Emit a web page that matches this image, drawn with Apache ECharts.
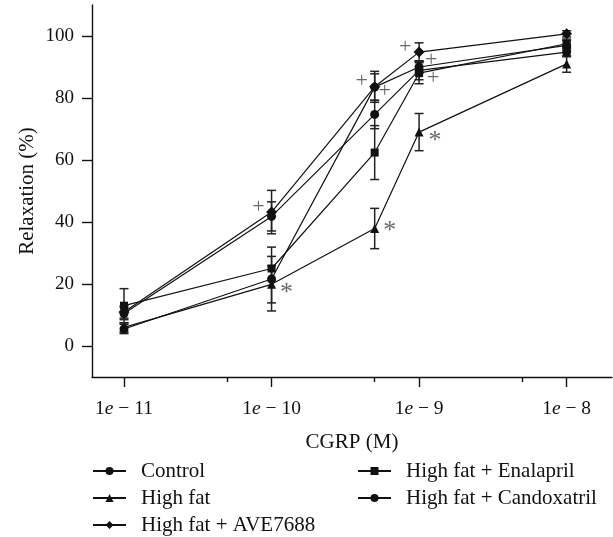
<!DOCTYPE html>
<html><head><meta charset="utf-8">
<script src="https://cdn.jsdelivr.net/npm/echarts@6/dist/echarts.min.js"></script>
<style>html,body{margin:0;padding:0;background:#fff}#c{width:613px;height:537px}</style>
</head><body><div id="c"></div>
<script>
// ---- data ----
const concentrations = [1e-11, 1e-10, 5e-10, 1e-9, 1e-8];
const seriesNames = ['Control', 'High fat', 'High fat + AVE7688', 'High fat + Enalapril', 'High fat + Candoxatril'];
const controlMean = [5.5, 21.6, 83.5, 90.0, 97.0];
const controlErr = [1.5, 10.3, 4.3, 2.0, 1.5];
const highFatMean = [6.0, 19.9, 37.9, 69.0, 91.0];
const highFatErr = [1.5, 6.0, 6.5, 6.0, 2.7];
const ave7688Mean = [11.0, 43.2, 83.6, 94.8, 100.7];
const ave7688Err = [2.0, 7.0, 5.0, 3.0, 1.0];
const enalaprilMean = [13.0, 25.0, 62.4, 88.0, 97.5];
const enalaprilErr = [5.5, 3.9, 8.7, 3.4, 1.5];
const candoxatrilMean = [10.5, 41.8, 74.7, 88.9, 94.8];
const candoxatrilErr = [2.0, 4.7, 4.6, 3.0, 1.5];
const xTickValues = [1e-11, 1e-10, 1e-9, 1e-8];
const xMinorTickValues = [5e-11, 5e-10, 5e-9];
const yTickValues = [0, 20, 40, 60, 80, 100];
// significance marks: [series, concentration index, mark]
const significance = [
  ['High fat + AVE7688', 1, '+'],
  ['High fat', 1, '*'],
  ['High fat + AVE7688', 2, '+'],
  ['Control', 2, '+'],
  ['High fat', 2, '*'],
  ['High fat + AVE7688', 3, '+'],
  ['Control', 3, '+'],
  ['High fat + Candoxatril', 3, '+'],
  ['High fat', 3, '*']
];

// ---- styling / layout ----
const means = [controlMean, highFatMean, ave7688Mean, enalaprilMean, candoxatrilMean];
const errs = [controlErr, highFatErr, ave7688Err, enalaprilErr, candoxatrilErr];
const symbols = ['circle', 'triangle', 'diamond', 'rect', 'circle'];
const symbolSizes = [9, 9, 11, 8, 9];
const markOffsets = [[-13, -5], [15, 9], [-13, -6], [10, 4], [15, 3], [-14, -5], [12, -7], [14, 8], [16, 9]];
const FONT = '"Liberation Serif", "Times New Roman", serif';
const INK = '#111';
const lg = v => Math.log10(v);
const xMin = -11.217, xMax = -7.6925;

const lineSeries = seriesNames.map((name, s) => ({
  type: 'line', name,
  data: concentrations.map((c, i) => [lg(c), means[s][i]]),
  symbol: symbols[s], symbolSize: symbolSizes[s],
  showAllSymbol: true,
  lineStyle: { color: INK, width: 1.2 },
  itemStyle: { color: INK, borderWidth: 0 },
  z: 3, animation: false
}));

const errSeries = seriesNames.map((name, s) => ({
  type: 'custom', name: name + ' SEM',
  data: concentrations.map((c, i) => [lg(c), means[s][i] - errs[s][i], means[s][i] + errs[s][i]]),
  encode: { x: 0, y: [1, 2] },
  renderItem(params, api) {
    const x = api.value(0);
    const lo = api.coord([x, api.value(1)]);
    const hi = api.coord([x, api.value(2)]);
    const hw = 4.5;
    const st = { stroke: '#222', lineWidth: 1.5 };
    return { type: 'group', children: [
      { type: 'line', shape: { x1: lo[0], y1: lo[1], x2: hi[0], y2: hi[1] }, style: st },
      { type: 'line', shape: { x1: lo[0] - hw, y1: lo[1], x2: lo[0] + hw, y2: lo[1] }, style: st },
      { type: 'line', shape: { x1: hi[0] - hw, y1: hi[1], x2: hi[0] + hw, y2: hi[1] }, style: st }
    ]};
  },
  z: 2, animation: false, silent: true
}));

const markSeries = {
  type: 'scatter', name: 'marks', silent: true, animation: false,
  symbolSize: 1, itemStyle: { color: 'transparent' },
  data: significance.map((m, k) => {
    const s = seriesNames.indexOf(m[0]);
    return {
      value: [lg(concentrations[m[1]]), means[s][m[1]]],
      label: {
        show: true, formatter: m[2], position: 'inside', offset: markOffsets[k],
        fontFamily: FONT, fontSize: m[2] === '*' ? 26 : 22, color: '#444',
        align: 'center', verticalAlign: 'middle'
      }
    };
  }),
  z: 4
};

const legendCommon = {
  orient: 'vertical', padding: 0, itemGap: 6, itemWidth: 33, itemHeight: 10,
  textStyle: { fontFamily: FONT, fontSize: 21, color: INK, padding: [0, 0, 0, 10] },
  lineStyle: { width: 2 }, selectedMode: false
};

const option = {
  backgroundColor: '#fff',
  animation: false,
  grid: { left: 92, right: 1, top: 5, bottom: 160 },
  xAxis: [{
    type: 'value', min: xMin, max: xMax, position: 'bottom',
    name: 'CGRP (M)', nameLocation: 'middle', nameGap: 55, nameMoveOverlap: false,
    nameTextStyle: { fontFamily: FONT, fontSize: 21, color: INK },
    axisLine: { onZero: false, lineStyle: { color: INK, width: 1.4 } },
    axisTick: { show: true, length: 10, lineStyle: { color: INK, width: 1.4 }, customValues: xTickValues.map(lg) },
    axisLabel: {
      customValues: xTickValues.map(lg), margin: 22,
      formatter: v => '{n|1}{e|e}{n| \u2212 ' + (-Math.round(v)) + '}',
      rich: {
        n: { fontFamily: FONT, fontSize: 19.5, color: INK },
        e: { fontFamily: FONT, fontSize: 19.5, color: INK, fontStyle: 'italic' }
      }
    },
    splitLine: { show: false }
  }, {
    type: 'value', min: xMin, max: xMax, position: 'bottom', offset: 0,
    axisLine: { show: false, onZero: false },
    axisTick: { show: true, length: 5, lineStyle: { color: INK, width: 1.4 }, customValues: xMinorTickValues.map(lg) },
    axisLabel: { show: false }, splitLine: { show: false }
  }],
  yAxis: {
    type: 'value', min: -10, max: 110,
    name: 'Relaxation (%)', nameLocation: 'middle', nameGap: 54, nameMoveOverlap: false,
    nameTextStyle: { fontFamily: FONT, fontSize: 21, color: INK },
    axisLine: { show: true, onZero: false, lineStyle: { color: INK, width: 1.4 } },
    axisTick: { show: true, length: 10, lineStyle: { color: INK, width: 1.4 }, customValues: yTickValues },
    axisLabel: { customValues: yTickValues, margin: 18, fontFamily: FONT, fontSize: 19, color: INK },
    splitLine: { show: false }
  },
  legend: [
    Object.assign({ left: 92, top: 460.5, data: seriesNames.slice(0, 3) }, legendCommon),
    Object.assign({ left: 357, top: 460.5, data: seriesNames.slice(3) }, legendCommon)
  ],
  series: [...errSeries, ...lineSeries, markSeries]
};

const chart = echarts.init(document.getElementById('c'), null, { renderer: 'canvas' });
chart.setOption(option);
</script>
</body></html>
